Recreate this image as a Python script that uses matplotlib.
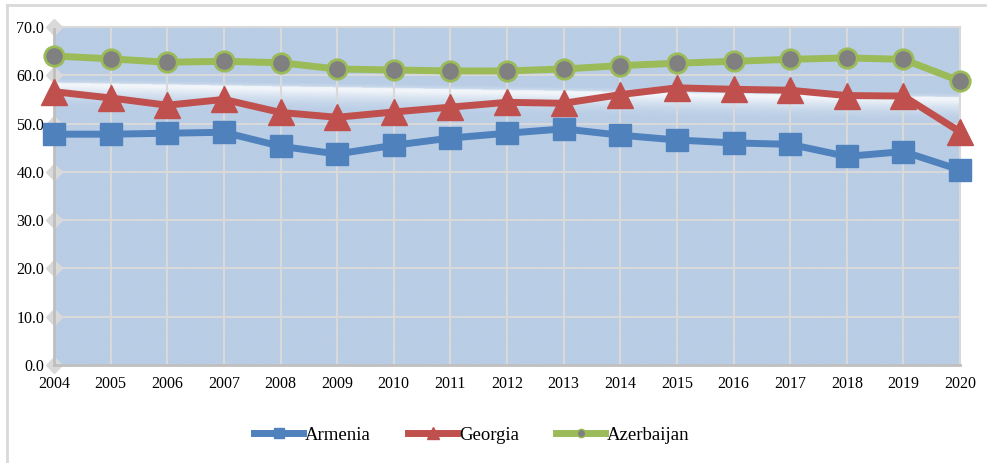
import numpy as np
import matplotlib.pyplot as plt
from matplotlib.lines import Line2D

years = list(range(2004, 2021))
armenia = [47.8, 47.8, 48.0, 48.2, 45.3, 43.7, 45.5, 47.0, 48.0, 48.9,
           47.6, 46.6, 46.0, 45.7, 43.2, 44.2, 40.4]
georgia = [56.6, 55.3, 53.8, 55.0, 52.3, 51.3, 52.4, 53.4, 54.4, 54.2,
           56.0, 57.4, 57.1, 56.9, 55.8, 55.7, 48.3]
azerbaijan = [64.0, 63.4, 62.7, 62.9, 62.6, 61.3, 61.1, 60.9, 60.9, 61.3,
              62.0, 62.5, 62.9, 63.3, 63.6, 63.3, 58.8]
yticks = [0, 10, 20, 30, 40, 50, 60, 70]

plt.rcParams['font.family'] = ['Liberation Serif', 'DejaVu Serif']

fig = plt.figure(figsize=(9.88, 4.63), dpi=100)
ax = fig.add_axes([54/988, 1-365/463, (960-54)/988, (365-27)/463])
ax.set_xlim(2004, 2020)
ax.set_ylim(0, 70)

# background: light blue with a slanted white glow band
blue = np.array([185, 205, 229]) / 255
xs = np.linspace(2004, 2020, 400)
ys = np.linspace(0, 70, 700)
X, Y = np.meshgrid(xs, ys)
top = 58.5 - 3.0 * (X - 2004) / 16
d = top - Y
w = np.where(d >= 0, np.clip(1 - d / 5.5, 0, 1) ** 1.8, np.clip(1 + d / 0.8, 0, 1) * 0.3)
w = np.where((d >= 0) & (d < 0.5), 0.8, w)
img = blue[None, None, :] * (1 - w[..., None]) + w[..., None]
ax.imshow(img, extent=[2004, 2020, 0, 70], origin='lower', aspect='auto', zorder=0)

ax.set_xticks(years)
ax.set_yticks(yticks)
ax.set_yticklabels([f"{v:.1f}" for v in yticks])
ax.grid(True, color='#D9D9D9', linewidth=1.5, zorder=1)
ax.set_axisbelow(True)
for s in ['top', 'right']:
    ax.spines[s].set_color('#D9D9D9')
    ax.spines[s].set_linewidth(1.5)
for s in ['left', 'bottom']:
    ax.spines[s].set_color('#BFBFBF')
    ax.spines[s].set_linewidth(2)
ax.tick_params(length=0, labelsize=11.5, colors='black')
ax.tick_params(axis='y', pad=7)
ax.tick_params(axis='x', pad=8)

# diamond tick marks on the y axis
ax.plot([2004] * len(yticks), yticks, 'D', color='#D9D9D9', markersize=8,
        clip_on=False, zorder=2)

ax.plot(years, armenia, color='#4F81BD', lw=5, marker='s', markersize=16,
        clip_on=False, zorder=4, label='Armenia')
ax.plot(years, georgia, color='#C0504D', lw=5, marker='^', markersize=19,
        clip_on=False, zorder=5, label='Georgia')
ax.plot(years, azerbaijan, color='#9BBB59', lw=5, marker='o', markersize=14,
        markerfacecolor='#808080', markeredgecolor='#9BBB59', markeredgewidth=2,
        clip_on=False, zorder=6, label='Azerbaijan')

handles = [
    Line2D([], [], color='#4F81BD', lw=5, marker='s', markersize=7),
    Line2D([], [], color='#C0504D', lw=5, marker='^', markersize=8),
    Line2D([], [], color='#9BBB59', lw=5, marker='o', markersize=6,
           markerfacecolor='#808080', markeredgecolor='#9BBB59'),
]
fig.legend(handles, ['Armenia', 'Georgia', 'Azerbaijan'], loc='center',
           bbox_to_anchor=(472/988, 1-435/463), ncol=3, frameon=False,
           fontsize=13.5, handlelength=2.6, handletextpad=0.1, columnspacing=2.0)

# outer frame lines
fig.add_artist(Line2D([7/988, 985/988], [1-5/463, 1-5/463], color='#D9D9D9', lw=2))
fig.add_artist(Line2D([7/988, 7/988], [0, 1-5/463], color='#D9D9D9', lw=2))

fig.savefig('out.png', dpi=100)
